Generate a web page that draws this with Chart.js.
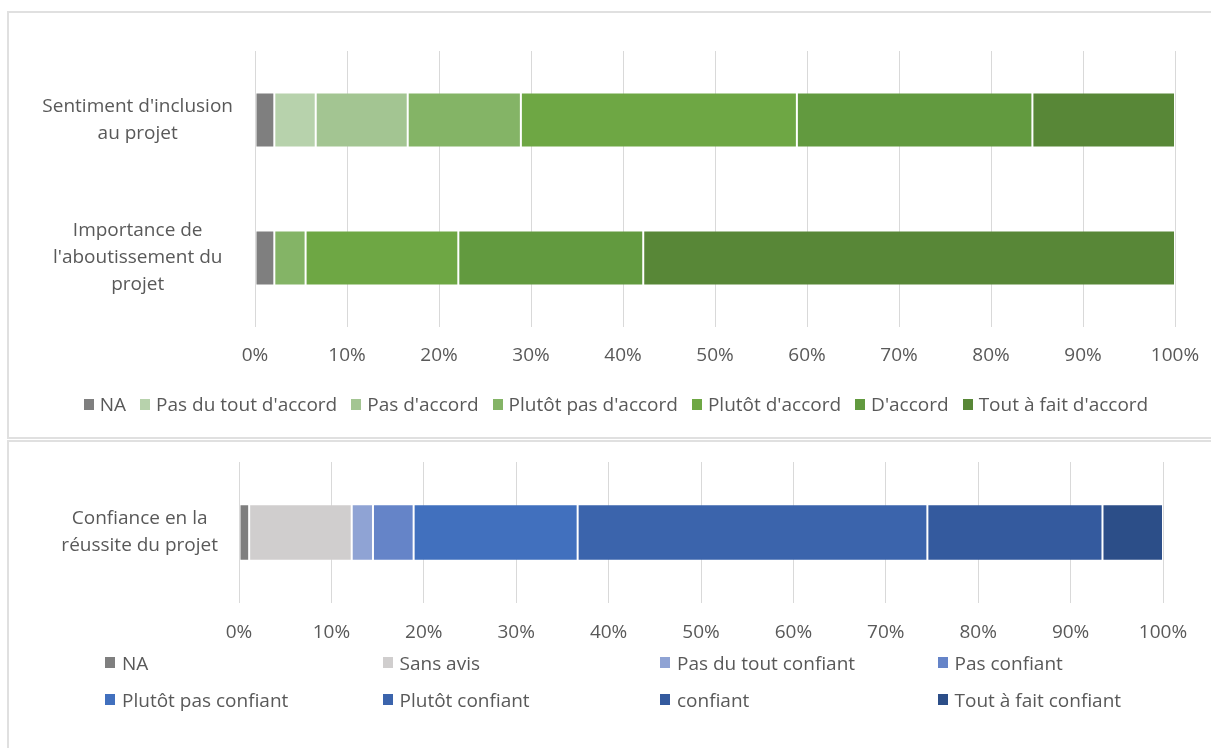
<!DOCTYPE html>
<html lang="fr">
<head>
<meta charset="utf-8">
<title>Inclusion, importance et confiance</title>
<script src="https://cdn.jsdelivr.net/npm/chart.js"></script>
<style>
  body { margin: 0; width: 1211px; height: 748px; overflow: hidden; background: #fff; position: relative; font-family: "Open Sans", sans-serif; }
  .panel { position: absolute; left: 7px; width: 1230px; border: 2px solid #e0e0e0; box-sizing: border-box; }
  #panelTop { top: 11px; height: 428px; }
  #panelBottom { top: 440px; height: 340px; }
  canvas { position: absolute; left: 0; }
  #chartTop { top: 0; }
  #chartBottom { top: 441px; }
  .legend .item { display: flex; align-items: center; font-size: 19px; color: #595959; white-space: nowrap; }
  .legend .box { width: 10px; height: 11px; margin-right: 6px; flex: none; }
  #legendTop { position: absolute; left: 0; width: 1232px; top: 390px; height: 28px; display: flex; justify-content: center; align-items: center; gap: 0 14px; }
  #legendBottom { position: absolute; left: 105px; top: 644px; display: grid; grid-template-columns: repeat(4, 277.5px); grid-auto-rows: 37px; }
  #legendBottom .box { margin-right: 7px; }
</style>
</head>
<body>
<div class="panel" id="panelTop"></div>
<div class="panel" id="panelBottom"></div>
<canvas id="chartTop" width="1211" height="437"></canvas>
<canvas id="chartBottom" width="1211" height="220"></canvas>
<div class="legend" id="legendTop"></div>
<div class="legend" id="legendBottom"></div>

<script>
// --- top chart: accord (percent of answers) ---
const topCategories = [
  ["Sentiment d'inclusion", "au projet"],
  ["Importance de", "l'aboutissement du", "projet"]
];
const topSeries = ['NA', 'Pas du tout d\'accord', 'Pas d\'accord', 'Plutôt pas d\'accord', 'Plutôt d\'accord', 'D\'accord', 'Tout à fait d\'accord'];
const topNA = [2.1, 2.1];
const topPasDuTout = [4.5, 0];
const topPasAccord = [10.0, 0];
const topPlutotPas = [12.3, 3.4];
const topPlutot = [30.0, 16.6];
const topAccord = [25.6, 20.1];
const topToutAFait = [15.5, 57.8];
const topColors = ['#7f7f7f', '#b7d2ac', '#a3c592', '#84b466', '#6ea744', '#629a3f', '#588737'];

// --- bottom chart: confiance ---
const bottomCategories = [["Confiance en la", "réussite du projet"]];
const bottomSeries = ['NA', 'Sans avis', 'Pas du tout confiant', 'Pas confiant', 'Plutôt pas confiant', 'Plutôt confiant', 'confiant', 'Tout à fait confiant'];
const bottomValues = [1.1, 11.1, 2.3, 4.4, 17.75, 37.85, 18.95, 6.55];
const bottomColors = ['#7f7f7f', '#d0cece', '#8fa3d4', '#6584c8', '#4170be', '#3b64ac', '#345a9e', '#2c4e88'];

const percentTicks = [0, 10, 20, 30, 40, 50, 60, 70, 80, 90, 100];

const textColor = '#595959';
const gridColor = '#d9d9d9';
const fontFamily = '"Open Sans", sans-serif';

const segBorder = ctx => (ctx.raw ? 1 : 0);

function percentAxis(height, padding) {
  return {
    stacked: true,
    min: 0,
    max: 100,
    afterBuildTicks: axis => { axis.ticks = percentTicks.map(v => ({value: v})); },
    ticks: {
      callback: v => v + '%',
      color: textColor,
      font: {family: fontFamily, size: 19},
      padding: padding,
      maxRotation: 0
    },
    grid: {color: gridColor, lineWidth: 1, drawTicks: false},
    border: {display: false},
    afterFit: axis => {
      axis.height = height;
      // labels may hang into the layout padding, keep the plot edges fixed
      axis.paddingLeft = 0;
      axis.paddingRight = 0;
    }
  };
}

function categoryAxis(width, padding) {
  return {
    stacked: true,
    grid: {display: false},
    border: {display: false},
    ticks: {
      color: textColor,
      font: {family: fontFamily, size: 19, lineHeight: 1.42},
      padding: padding,
      crossAlign: 'center'
    },
    afterFit: axis => {
      axis.width = width;
      axis.paddingTop = 0;
      axis.paddingBottom = 0;
    }
  };
}

function makeDatasets(names, colors, rows) {
  return names.map((name, i) => ({
    label: name,
    data: rows[i],
    backgroundColor: colors[i],
    borderColor: 'rgba(255,255,255,0.12)',
    borderWidth: segBorder,
    borderSkipped: false,
    barPercentage: 0.4,
    categoryPercentage: 1
  }));
}

function buildLegend(chart, el) {
  chart.data.datasets.forEach(ds => {
    const item = document.createElement('div');
    item.className = 'item';
    const box = document.createElement('span');
    box.className = 'box';
    box.style.background = ds.backgroundColor;
    item.appendChild(box);
    item.appendChild(document.createTextNode(ds.label));
    el.appendChild(item);
  });
}

const topData = [topNA, topPasDuTout, topPasAccord, topPlutotPas, topPlutot, topAccord, topToutAFait];

const topChart = new Chart(document.getElementById('chartTop'), {
  type: 'bar',
  data: {
    labels: topCategories,
    datasets: makeDatasets(topSeries, topColors, topData)
  },
  options: {
    indexAxis: 'y',
    responsive: false,
    animation: false,
    layout: {padding: {left: 0, right: 36, top: 51, bottom: 70}},
    scales: {
      x: percentAxis(40, 17),
      y: categoryAxis(255, 14)
    },
    plugins: {
      legend: {display: false},
      tooltip: {enabled: false}
    }
  }
});

const bottomChart = new Chart(document.getElementById('chartBottom'), {
  type: 'bar',
  data: {
    labels: bottomCategories,
    datasets: makeDatasets(bottomSeries, bottomColors, bottomValues.map(v => [v]))
  },
  options: {
    indexAxis: 'y',
    responsive: false,
    animation: false,
    layout: {padding: {left: 0, right: 48, top: 21, bottom: 18}},
    scales: {
      x: percentAxis(40, 18),
      y: categoryAxis(239, 13)
    },
    plugins: {
      legend: {display: false},
      tooltip: {enabled: false}
    }
  }
});

buildLegend(topChart, document.getElementById('legendTop'));
buildLegend(bottomChart, document.getElementById('legendBottom'));
</script>
</body>
</html>
